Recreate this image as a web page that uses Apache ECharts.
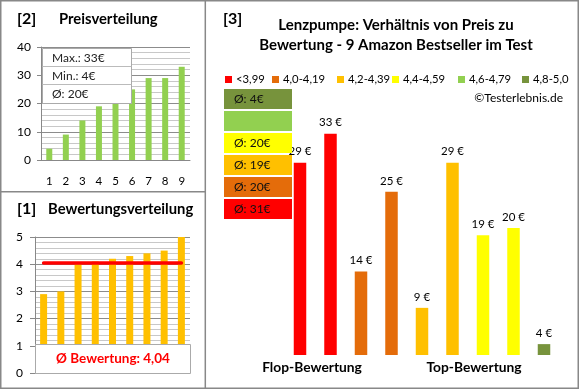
<!DOCTYPE html>
<html><head><meta charset="utf-8">
<script src="https://cdn.jsdelivr.net/npm/echarts@6/dist/echarts.min.js"></script>
<style>html,body{margin:0;padding:0;background:#fff}#c{width:580px;height:390px}</style>
</head><body><div id="c"></div>
<script>
// ---- data ----
const productNos = ['1','2','3','4','5','6','7','8','9'];
const pricesSorted = [4, 9, 14, 19, 20, 25, 29, 29, 33];
const ratingsSorted = [2.9, 3.0, 4.0, 4.1, 4.2, 4.3, 4.4, 4.5, 5.0];
const pricesByRating = [29, 33, 14, 25, 9, 29, 19, 20, 4];
const ratingClasses = ['<3,99', '4,0-4,19', '4,2-4,39', '4,4-4,59', '4,6-4,79', '4,8-5,0'];
const classLowerBounds = [0, 4.0, 4.2, 4.4, 4.6, 4.8];
const classColors = ['#FF0000', '#E46C0A', '#FFC000', '#FFFF00', '#92D050', '#77933C'];
const priceAxis = {min: 0, max: 40, step: 10};
const ratingAxis = {min: 0, max: 5, step: 1};
const bottomLabels = ['Flop-Bewertung', 'Top-Bewertung'];

// ---- derived ----
const FONT = 'Lato, "DejaVu Sans", sans-serif';
const legendLeft = [225, 272, 337, 392, 458, 522];
function classOf(r){ let k = 0; classLowerBounds.forEach((b,i)=>{ if (r >= b - 1e-9) k = i; }); return k; }
const classIdx = ratingsSorted.map(classOf);
const avgRating = ratingsSorted.reduce((a,b)=>a+b,0)/ratingsSorted.length;
const maxP = Math.max(...pricesSorted), minP = Math.min(...pricesSorted);
const avgP = Math.round(pricesSorted.reduce((a,b)=>a+b,0)/pricesSorted.length);
const classAvg = ratingClasses.map((_,k)=>{
  const v = pricesByRating.filter((p,i)=>classIdx[i]===k);
  return v.length ? Math.round(v.reduce((a,b)=>a+b,0)/v.length) : null;
});

const chart = echarts.init(document.getElementById('c'), null, {renderer:'canvas'});
const txt = (x,y,text,size,opt={}) => ({type:'text', z:100, x, y, style:{text, font:(opt.bold?'bold ':'')+size+'px '+FONT, fill:opt.fill||'#000', textAlign:opt.align||'left', textVerticalAlign:'middle'}});

const graphics = [
  {type:'rect', z:100, shape:{x:0.75,y:0.75,width:577.5,height:387.5}, style:{fill:null, stroke:'#888', lineWidth:1.5}},
  {type:'line', z:100, shape:{x1:205.3,y1:0,x2:205.3,y2:389}, style:{stroke:'#888', lineWidth:1.5}},
  {type:'line', z:100, shape:{x1:0,y1:191.7,x2:205,y2:191.7}, style:{stroke:'#888', lineWidth:1.5}},
  txt(17,19,'[2]',16,{bold:true}),
  txt(59,19,'Preisverteilung',14.8,{bold:true}),
  txt(17,209,'[1]',16,{bold:true}),
  txt(48,209,'Bewertungsverteilung',14.8,{bold:true}),
  txt(223,19,'[3]',16,{bold:true}),
  txt(396,25,'Lenzpumpe: Verhältnis von Preis zu',15,{bold:true,align:'center'}),
  txt(396,45,'Bewertung - 9 Amazon Bestseller im Test',15,{bold:true,align:'center'}),
  txt(563,98,'©Testerlebnis.de',12,{align:'right'}),
  txt(312,368,bottomLabels[0],13.8,{bold:true,align:'center'}),
  txt(474,368,bottomLabels[1],13.8,{bold:true,align:'center'}),
  // price info box
  {type:'rect', z:100, shape:{x:42.5,y:48.5,width:89,height:55}, style:{fill:'#fff', stroke:'#aaa', lineWidth:1}},
  {type:'line', z:100, shape:{x1:42.5,y1:66.5,x2:131.5,y2:66.5}, style:{stroke:'#bbb', lineWidth:1}},
  {type:'line', z:100, shape:{x1:42.5,y1:84.5,x2:131.5,y2:84.5}, style:{stroke:'#bbb', lineWidth:1}},
  txt(52,58,'Max.: '+maxP+'€',12,{fill:'#222'}),
  txt(52,76,'Min.: '+minP+'€',12,{fill:'#222'}),
  txt(52,94,'Ø: '+avgP+'€',12,{fill:'#222'}),
  // rating info box
  {type:'rect', z:100, shape:{x:35.5,y:344.5,width:155,height:29}, style:{fill:'#fff', stroke:'#aaa', lineWidth:1}},
  txt(113,359,'Ø Bewertung: '+avgRating.toFixed(2).replace('.',','),13.5,{bold:true,fill:'#FF0000',align:'center'})
];
// class average boxes (top: best class)
for (let j=0;j<6;j++){
  const k = 5-j;
  const y = 89 + j*22;
  graphics.push({type:'rect', z:100, shape:{x:224,y,width:68,height:20}, style:{fill:classColors[k]}});
  if (classAvg[k] !== null) graphics.push(txt(234,y+10,'Ø: '+classAvg[k]+'€',12,{fill:'#111'}));
}

const legendSeries = ratingClasses.map((n,k)=>({name:n, type:'line', xAxisIndex:2, yAxisIndex:2, data:[], color:classColors[k], itemStyle:{color:classColors[k]}}));

chart.setOption({
  animation:false,
  textStyle:{fontFamily:FONT},
  graphic:{elements:graphics},
  grid:[
    {left:41, top:47, width:149, height:113},
    {left:35, top:237, width:155, height:136},
    {left:284.75, top:83, width:274.5, height:272}
  ],
  xAxis:[
    {gridIndex:0, type:'category', data:productNos, axisLine:{lineStyle:{color:'#888'}}, axisTick:{show:false},
     axisLabel:{color:'#000', fontSize:11.5, margin:15, fontFamily:FONT}},
    {gridIndex:1, type:'category', data:productNos, axisLine:{show:false}, axisTick:{show:false}, axisLabel:{show:false}},
    {gridIndex:2, type:'category', data:productNos, show:false}
  ],
  yAxis:[
    {gridIndex:0, type:'value', min:priceAxis.min, max:priceAxis.max, interval:priceAxis.step,
     axisLine:{show:true, lineStyle:{color:'#888'}}, axisTick:{show:true, length:4, lineStyle:{color:'#888'}},
     axisLabel:{color:'#000', fontSize:12, margin:10, fontFamily:FONT},
     splitLine:{lineStyle:{color:'#8c8c8c'}}, minorTick:{show:false, splitNumber:5}, minorSplitLine:{show:true, lineStyle:{color:'#c8c8c8'}}},
    {gridIndex:1, type:'value', min:ratingAxis.min, max:ratingAxis.max, interval:ratingAxis.step,
     axisLine:{show:true, lineStyle:{color:'#888'}}, axisTick:{show:true, length:5, lineStyle:{color:'#888'}},
     axisLabel:{color:'#000', fontSize:12, margin:12, fontFamily:FONT},
     splitLine:{lineStyle:{color:'#8c8c8c'}}, minorTick:{show:false, splitNumber:5}, minorSplitLine:{show:true, lineStyle:{color:'#c8c8c8'}}},
    {gridIndex:2, type:'value', min:2.5, max:40, show:false, splitLine:{show:false}}
  ],
  legend: ratingClasses.map((n,k)=>({
    left:legendLeft[k], top:74, itemWidth:7, itemHeight:7, itemGap:0, padding:0, icon:'rect',
    textStyle:{fontSize:11.3, color:'#000', fontFamily:FONT, padding:[0,0,0,-1]},
    data:[{name:n, icon:'rect', itemStyle:{color:classColors[k]}}],
    selectedMode:false
  })),
  series:[
    {type:'bar', xAxisIndex:0, yAxisIndex:0, data:pricesSorted, barWidth:6, itemStyle:{color:'#92D050'}, silent:true},
    {type:'bar', xAxisIndex:1, yAxisIndex:1, data:ratingsSorted, barWidth:7, itemStyle:{color:'#FFC000'}, silent:true,
     markLine:{silent:true, symbol:'none', label:{show:false}, lineStyle:{color:'#FF0000', width:3.5, type:'solid', cap:'round'},
       data:[[{coord:[productNos[0], avgRating]}, {coord:[productNos[productNos.length-1], avgRating]}]]}},
    {type:'bar', xAxisIndex:2, yAxisIndex:2, barWidth:12.5, clip:true, silent:true,
     data:pricesByRating.map((p,i)=>({value:p, itemStyle:{color:classColors[classIdx[i]]}})),
     label:{show:true, position:'top', distance:5, formatter:'{c} €', fontSize:11.5, color:'#000', fontFamily:FONT}},
    ...legendSeries
  ]
});
</script></body></html>
